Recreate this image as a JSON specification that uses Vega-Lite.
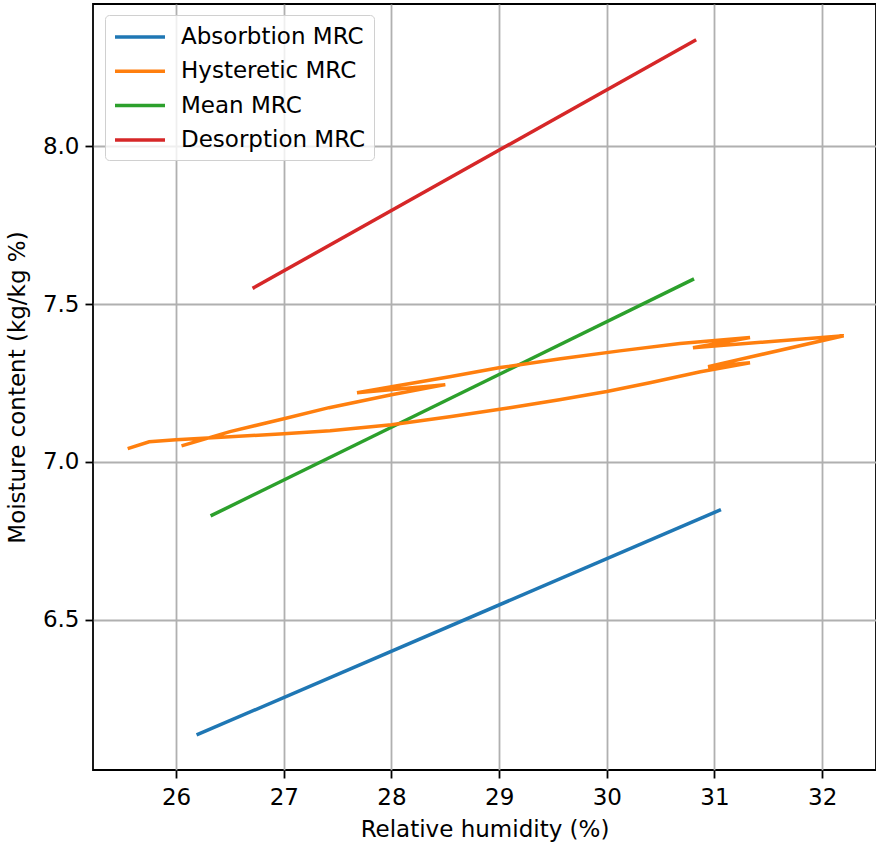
{
  "$schema": "https://vega.github.io/schema/vega-lite/v6.json",
  "width": 783,
  "height": 766,
  "autosize": {"type": "none"},
  "padding": {"left": 93, "top": 4, "right": 0, "bottom": 76},
  "background": "white",
  "config": {
    "font": "DejaVu Sans",
    "view": {"stroke": "black", "strokeWidth": 1.8},
    "axis": {
      "domain": false,
      "grid": true,
      "gridColor": "#b0b0b0",
      "gridWidth": 1.8,
      "tickColor": "black",
      "tickWidth": 1.8,
      "tickSize": 8,
      "labelFont": "DejaVu Sans",
      "labelFontSize": 23,
      "labelColor": "black",
      "labelPadding": 6,
      "titleFont": "DejaVu Sans",
      "titleFontSize": 23,
      "titleFontWeight": "normal",
      "titleColor": "black"
    },
    "legend": {
      "orient": "none",
      "legendX": 12,
      "legendY": 11,
      "padding": 8,
      "strokeColor": "#d0d0d0",
      "fillColor": "rgba(255,255,255,0.8)",
      "cornerRadius": 4,
      "labelFont": "DejaVu Sans",
      "labelFontSize": 23,
      "labelColor": "black",
      "labelLimit": 400,
      "symbolType": "M-1,0H3.1667",
      "symbolSize": 576,
      "symbolStrokeWidth": 3.5,
      "labelOffset": 40,
      "rowPadding": 8.3
    }
  },
  "data": {
    "values": [
      {"series": "Absorbtion MRC", "i": 0, "rh": 26.19, "mc": 6.135},
      {"series": "Absorbtion MRC", "i": 1, "rh": 31.06, "mc": 6.849},
      {"series": "Mean MRC", "i": 0, "rh": 26.32, "mc": 6.829},
      {"series": "Mean MRC", "i": 1, "rh": 30.81, "mc": 7.58},
      {"series": "Desorption MRC", "i": 0, "rh": 26.71, "mc": 7.55},
      {"series": "Desorption MRC", "i": 1, "rh": 30.83, "mc": 8.338},
      {"series": "Hysteretic MRC", "i": 0, "rh": 26.05, "mc": 7.051},
      {"series": "Hysteretic MRC", "i": 1, "rh": 26.5, "mc": 7.096},
      {"series": "Hysteretic MRC", "i": 2, "rh": 27.0, "mc": 7.137},
      {"series": "Hysteretic MRC", "i": 3, "rh": 27.42, "mc": 7.172},
      {"series": "Hysteretic MRC", "i": 4, "rh": 28.0, "mc": 7.213},
      {"series": "Hysteretic MRC", "i": 5, "rh": 28.5, "mc": 7.245},
      {"series": "Hysteretic MRC", "i": 6, "rh": 27.68, "mc": 7.219},
      {"series": "Hysteretic MRC", "i": 7, "rh": 28.0, "mc": 7.238},
      {"series": "Hysteretic MRC", "i": 8, "rh": 28.54, "mc": 7.27},
      {"series": "Hysteretic MRC", "i": 9, "rh": 29.01, "mc": 7.299},
      {"series": "Hysteretic MRC", "i": 10, "rh": 29.57, "mc": 7.327},
      {"series": "Hysteretic MRC", "i": 11, "rh": 30.12, "mc": 7.352},
      {"series": "Hysteretic MRC", "i": 12, "rh": 30.68, "mc": 7.375},
      {"series": "Hysteretic MRC", "i": 13, "rh": 31.33, "mc": 7.394},
      {"series": "Hysteretic MRC", "i": 14, "rh": 30.8, "mc": 7.362},
      {"series": "Hysteretic MRC", "i": 15, "rh": 32.2, "mc": 7.4},
      {"series": "Hysteretic MRC", "i": 16, "rh": 30.94, "mc": 7.302},
      {"series": "Hysteretic MRC", "i": 17, "rh": 31.33, "mc": 7.314},
      {"series": "Hysteretic MRC", "i": 18, "rh": 30.87, "mc": 7.286},
      {"series": "Hysteretic MRC", "i": 19, "rh": 30.4, "mc": 7.251},
      {"series": "Hysteretic MRC", "i": 20, "rh": 30.0, "mc": 7.223},
      {"series": "Hysteretic MRC", "i": 21, "rh": 29.56, "mc": 7.197},
      {"series": "Hysteretic MRC", "i": 22, "rh": 29.1, "mc": 7.172},
      {"series": "Hysteretic MRC", "i": 23, "rh": 28.54, "mc": 7.143},
      {"series": "Hysteretic MRC", "i": 24, "rh": 28.0, "mc": 7.118},
      {"series": "Hysteretic MRC", "i": 25, "rh": 27.43, "mc": 7.099},
      {"series": "Hysteretic MRC", "i": 26, "rh": 27.0, "mc": 7.089},
      {"series": "Hysteretic MRC", "i": 27, "rh": 26.5, "mc": 7.08},
      {"series": "Hysteretic MRC", "i": 28, "rh": 26.0, "mc": 7.07},
      {"series": "Hysteretic MRC", "i": 29, "rh": 25.75, "mc": 7.064},
      {"series": "Hysteretic MRC", "i": 30, "rh": 25.55, "mc": 7.042}
    ]
  },
  "mark": {"type": "line", "strokeWidth": 3.5, "clip": true},
  "encoding": {
    "x": {
      "field": "rh",
      "type": "quantitative",
      "title": "Relative humidity (%)",
      "scale": {"domain": [25.228, 32.5], "nice": false, "zero": false},
      "axis": {"values": [26, 27, 28, 29, 30, 31, 32], "format": "d", "labelPadding": 8, "titlePadding": 9}
    },
    "y": {
      "field": "mc",
      "type": "quantitative",
      "title": "Moisture content (kg/kg %)",
      "scale": {"domain": [6.024, 8.451], "nice": false, "zero": false},
      "axis": {"values": [6.5, 7.0, 7.5, 8.0], "format": ".1f", "titlePadding": 13}
    },
    "color": {
      "field": "series",
      "type": "nominal",
      "title": null,
      "scale": {
        "domain": ["Absorbtion MRC", "Hysteretic MRC", "Mean MRC", "Desorption MRC"],
        "range": ["#1f77b4", "#ff7f0e", "#2ca02c", "#d62728"]
      }
    },
    "order": {"field": "i", "type": "quantitative"}
  }
}
